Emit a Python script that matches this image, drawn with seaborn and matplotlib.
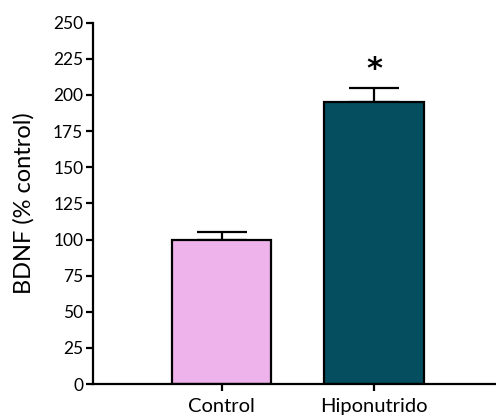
import matplotlib
matplotlib.use("Agg")
import matplotlib.pyplot as plt
import seaborn as sns
import pandas as pd

groups = ["Control", "Hiponutrido"]
bdnf_mean = [100, 195]
bdnf_sem = [5.5, 10]
bar_colors = ["#EFB3EC", "#054E60"]
y_ticks = [0, 25, 50, 75, 100, 125, 150, 175, 200, 225, 250]

sns.set_style("ticks")
plt.rcParams["font.family"] = ["Lato", "DejaVu Sans"]
plt.rcParams["text.color"] = "black"
plt.rcParams["axes.labelcolor"] = "black"

df = pd.DataFrame({"group": groups, "bdnf": bdnf_mean})

fig = plt.figure(figsize=(4.96, 4.17), dpi=100)
ax = fig.add_axes([0.1875, 0.079, 0.8125, 0.8665])

sns.barplot(data=df, x="group", y="bdnf", hue="group", palette=bar_colors,
            saturation=1, width=0.655, edgecolor="black", linewidth=1.6,
            legend=False, errorbar=None, ax=ax, zorder=2)

# upper-only SEM bars
ax.errorbar(range(len(groups)), bdnf_mean,
            yerr=[[0] * len(groups), bdnf_sem],
            fmt="none", ecolor="black", elinewidth=1.6, capsize=18,
            capthick=1.6, zorder=1)

# significance marker above the treated group
ax.annotate("*", xy=(1, bdnf_mean[1] + bdnf_sem[1]), xytext=(0, 3),
            textcoords="offset points", ha="center", va="bottom",
            fontsize=22, fontweight="bold", family="DejaVu Sans")

ax.set_ylim(0, 250)
ax.set_xlim(-0.843, 1.8)
ax.set_yticks(y_ticks)
ax.set_xlabel("")
ax.set_ylabel("BDNF (% control)", fontsize=17, labelpad=13)
ax.tick_params(axis="both", direction="out", length=5, width=1.6,
               colors="black")
ax.tick_params(axis="y", labelsize=12.5, pad=2)
ax.tick_params(axis="x", labelsize=14.5, pad=5)
for side in ("left", "bottom"):
    ax.spines[side].set_linewidth(1.6)
    ax.spines[side].set_color("black")
sns.despine(ax=ax)

fig.savefig("out.png", dpi=100)
